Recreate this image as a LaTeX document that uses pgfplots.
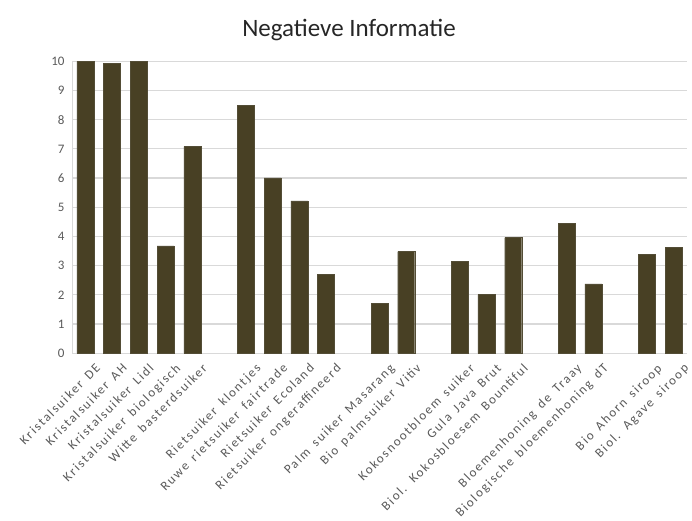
\documentclass[border=0pt]{standalone}
\usepackage{pgfplots}
\pgfplotsset{compat=1.18}
\usepackage{fontspec}
\setmainfont{Carlito}
\newfontfamily\spaced[LetterSpace=13,WordSpace=1.6]{Carlito}
\definecolor{barc}{RGB}{72,64,36}
\definecolor{gridc}{RGB}{217,217,217}
\definecolor{txt}{RGB}{89,89,89}
\begin{document}
\begin{tikzpicture}[x=1pt,y=1pt]
\useasboundingbox (0,0) rectangle (692,521);
\node[font=\fontsize{25}{30}\selectfont, text=black!85] at (349,491) {Negatieve Informatie};
\begin{axis}[
  at={(72pt,167.7pt)}, anchor=south west,
  scale only axis, width=615pt, height=292pt,
  xmin=-0.5, xmax=22.5, ymin=0, ymax=10,
  ytick={0,...,10},
  xtick={0,1,2,3,4,6,7,8,9,11,12,14,15,16,18,19,21,22},
  xticklabels={Kristalsuiker DE,Kristalsuiker AH,Kristalsuiker Lidl,Kristalsuiker biologisch,Witte basterdsuiker,Rietsuiker klontjes,Ruwe rietsuiker fairtrade,Rietsuiker Ecoland,Rietsuiker ongeraffineerd,Palm suiker Masarang,Bio palmsuiker Vitiv,Kokosnootbloem suiker,Gula Java Brut,{Biol. Kokosbloesem Bountiful},Bloemenhoning de Traay,Biologische bloemenhoning dT,Bio Ahorn siroop,{Biol. Agave siroop}},
  x tick label style={rotate=45, anchor=north east, font=\spaced\fontsize{13}{15}\selectfont, text=txt, inner sep=0pt, yshift=-13pt, xshift=0pt},
  y tick label style={font=\fontsize{13}{15}\selectfont, text=txt, xshift=-4pt},
  /pgf/number format/assume math mode=true,
  major tick length=0pt,
  axis x line=bottom, axis y line=left,
  axis line style={gridc, line width=1pt, -},
  ymajorgrids, grid style={gridc, line width=1.2pt},
]
\addplot[ybar, bar width=17pt, fill=barc, draw=barc!80!gray, line width=0.4pt] coordinates {
(0,10) (1,9.94) (2,10) (3,3.68) (4,7.08)
(6,8.49) (7,6.01) (8,5.22) (9,2.70)
(11,1.71) (12,3.48)
(14,3.14) (15,2.01) (16,3.96)
(18,4.45) (19,2.38)
(21,3.39) (22,3.63)
};
\end{axis}
\end{tikzpicture}
\end{document}
